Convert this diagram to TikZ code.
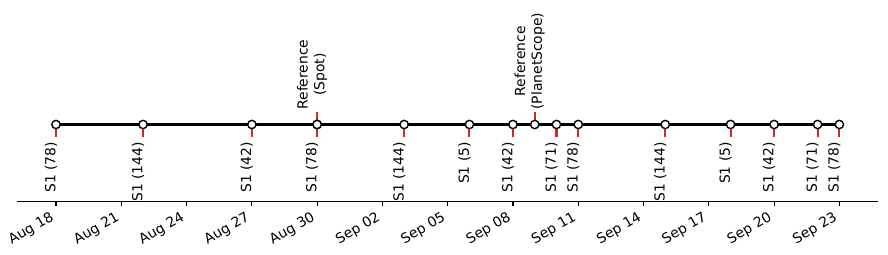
\documentclass[tikz,border=0pt]{standalone}
\usepackage{fontspec}
\setmainfont{DejaVu Sans}
\definecolor{tabred}{HTML}{D62728}
\begin{document}
\begin{tikzpicture}[x=0.72pt,y=0.72pt,
  lbl/.style={font=\fontsize{10}{12}\selectfont, inner sep=0pt, outer sep=0pt},
  stem/.style={draw=tabred, line width=1.5pt},
  tl/.style={draw=black, line width=1.5pt},
  mk/.style={circle, draw=black, fill=white, line width=1pt, minimum size=6pt, inner sep=0pt},
  axisline/.style={draw=black, line width=0.8pt},
  tickmark/.style={draw=black, line width=0.8pt}]
\useasboundingbox (0,0) rectangle (888,255);
% S1 acquisitions (stems and labels below the line)
\foreach \i/\d/\t in {1/0/{S1 (78)},2/4/{S1 (144)},3/9/{S1 (42)},4/12/{S1 (78)},5/16/{S1 (144)},6/19/{S1 (5)},7/21/{S1 (42)},8/23/{S1 (71)},9/24/{S1 (78)},10/28/{S1 (144)},11/31/{S1 (5)},12/33/{S1 (42)},13/35/{S1 (71)},14/36/{S1 (78)}}{
  \pgfmathsetmacro\xx{56+21.76*\d}
  \coordinate (s\i) at (\xx,130.5);
  \coordinate (se\i) at (\xx,118.3);
  \draw[stem] (s\i) -- (se\i);
  \node[lbl,rotate=90,anchor=east] (l\i) at (\xx-5,112.8) {\t};
}
% reference images (stems and labels above the line)
\foreach \i/\d/\t in {1/12/{Reference\\(Spot)},2/22/{Reference\\(PlanetScope)}}{
  \pgfmathsetmacro\xx{56+21.76*\d}
  \coordinate (r\i) at (\xx,130.5);
  \coordinate (re\i) at (\xx,143.3);
  \draw[stem] (r\i) -- (re\i);
  \node[lbl,rotate=90,anchor=west,align=center] (rl\i) at (\xx-5,145.5) {\t};
}
% timeline
\draw[tl] (s1) -- (s14);
\foreach \i in {1,...,14}{\node[mk] (m\i) at (s\i) {};}
\foreach \i in {1,2}{\node[mk] (rm\i) at (r\i) {};}
% date axis
\coordinate (axL) at (17,53.7);
\coordinate (axR) at (878.3,53.7);
\draw[axisline] (axL) -- (axR);
\foreach \k/\t in {0/Aug 18,1/Aug 21,2/Aug 24,3/Aug 27,4/Aug 30,5/Sep 02,6/Sep 05,7/Sep 08,8/Sep 11,9/Sep 14,10/Sep 17,11/Sep 20,12/Sep 23}{
  \pgfmathsetmacro\xx{56+65.28*\k}
  \coordinate (t\k) at (\xx,53.7);
  \coordinate (tb\k) at (\xx,48.84);
  \draw[tickmark] (t\k) -- (tb\k);
  \node[lbl,rotate=30,anchor=north east] (d\k) at (\xx-6.7,44) {\t};
}
\end{tikzpicture}
\end{document}
